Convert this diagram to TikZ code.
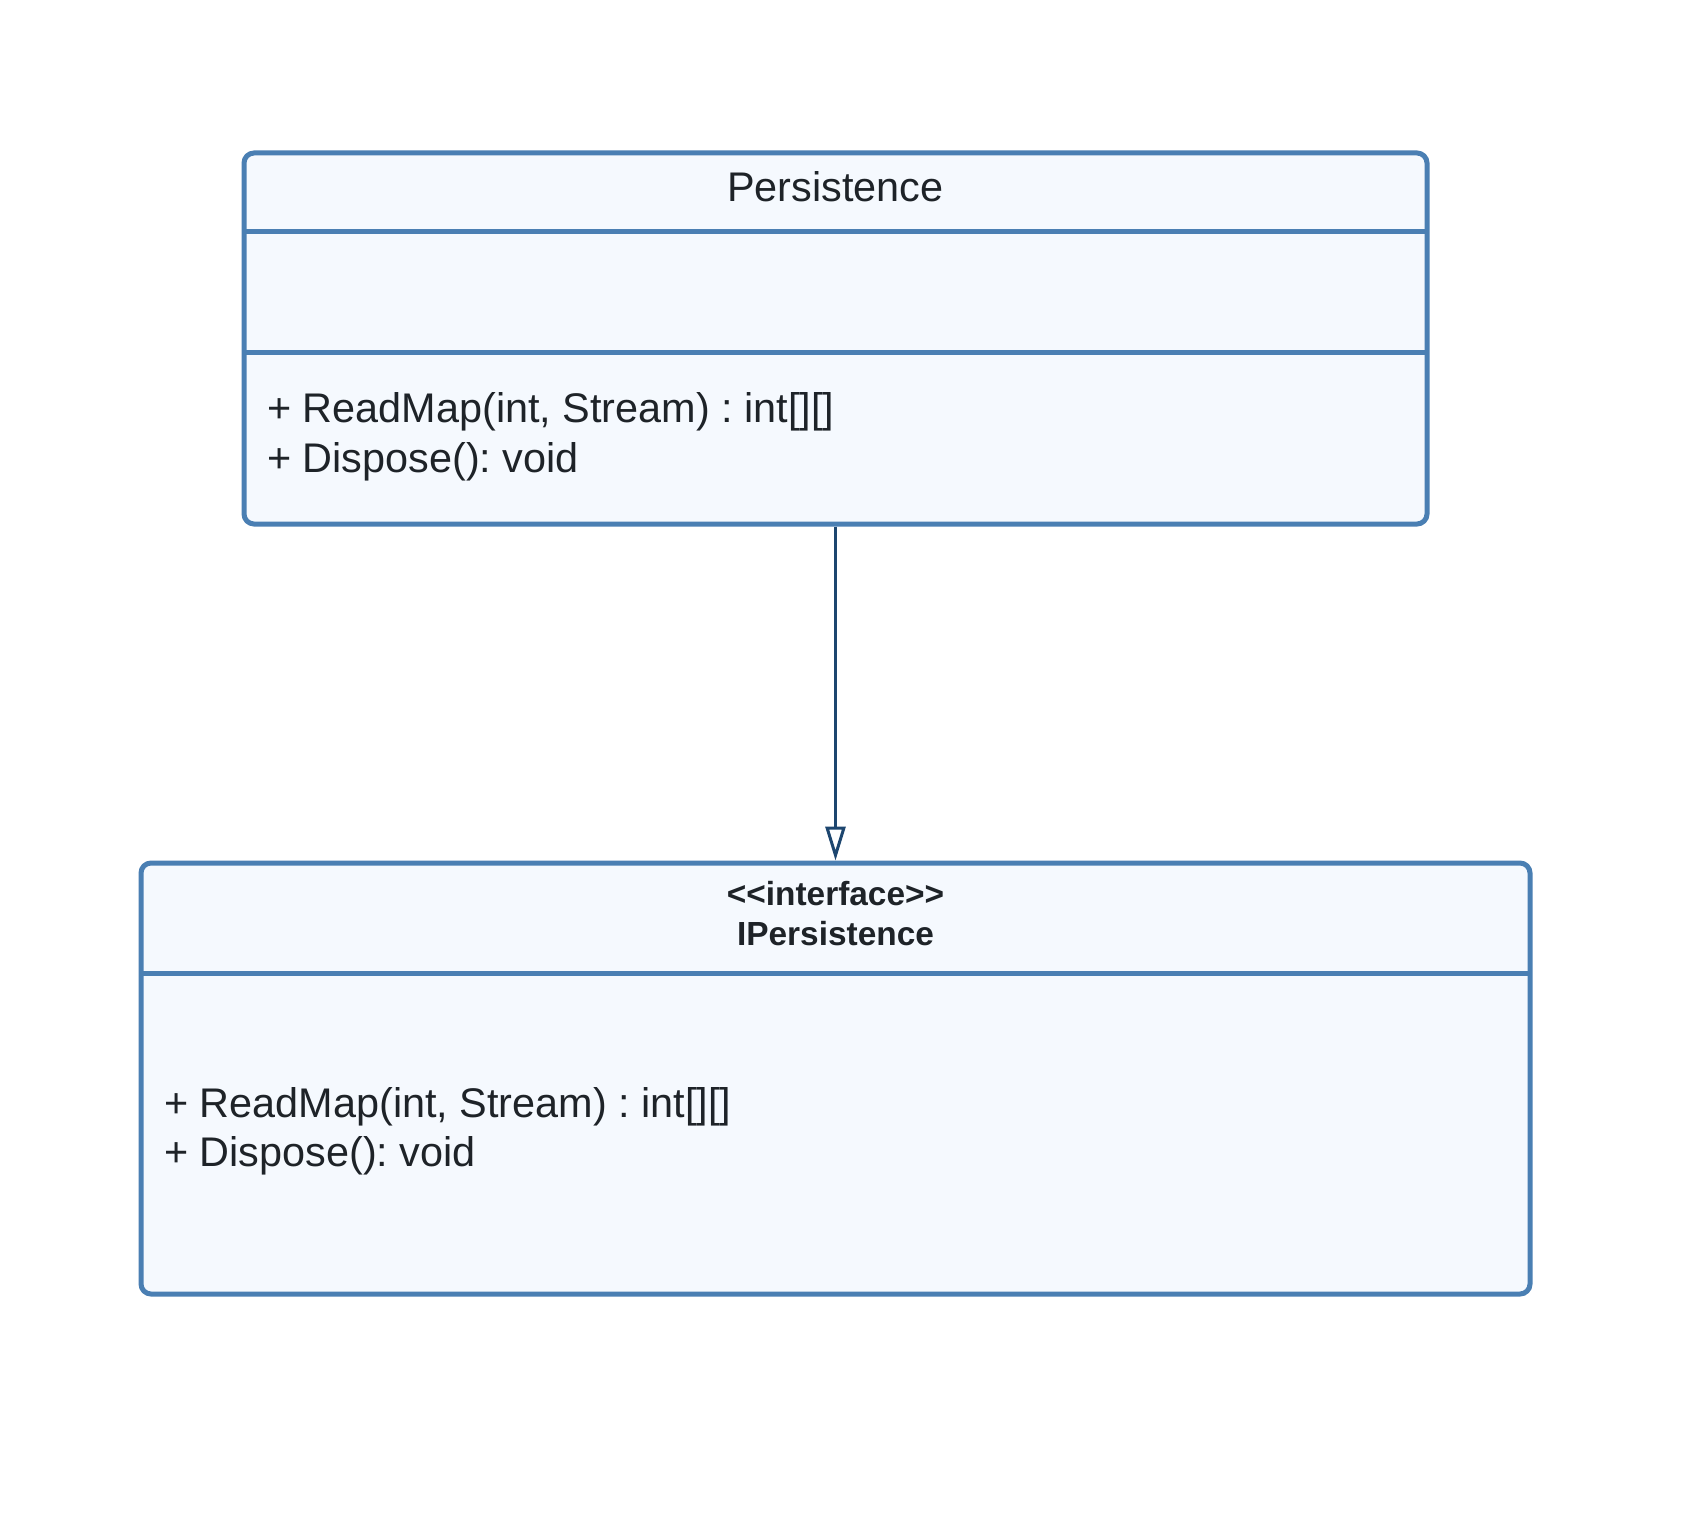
\documentclass[tikz,border=0pt]{standalone}
\usepackage{fontspec}
\setmainfont{Liberation Sans}
\usetikzlibrary{arrows.meta}
\frenchspacing
\definecolor{bordercol}{HTML}{4A7FB3}
\definecolor{fillcol}{HTML}{F5F9FE}
\definecolor{textcol}{HTML}{1E2328}
\definecolor{arrowcol}{HTML}{1D466F}
\tikzset{
  classbox/.style={draw=bordercol, fill=fillcol, line width=5pt, rounded corners=10pt, inner sep=0pt, rectangle},
  divider/.style={draw=bordercol, line width=4.5pt},
  mtext/.style={text=textcol, inner sep=0pt, font=\fontsize{41.4}{50}\selectfont},
  btext/.style={text=textcol, inner sep=0pt, font=\fontsize{33.4}{40}\selectfont\bfseries},
  realize/.style={draw=arrowcol, line width=3pt, -{Triangle[open, length=34pt, width=20pt, line width=3pt]}}
}
\begin{document}
\begin{tikzpicture}[x=1pt,y=-1pt]
\useasboundingbox (0,0) rectangle (1686,1517);
\fill[white] (0,0) rectangle (1686,1517);
% upper class
\node[classbox, minimum width=1183pt, minimum height=371pt] (upper) at (835.5,338.5) {};
\coordinate (u1l) at (244,231.5);
\coordinate (u1r) at (1427,231.5);
\coordinate (u2l) at (244,352.5);
\coordinate (u2r) at (1427,352.5);
\draw[divider] (u1l) -- (u1r);
\draw[divider] (u2l) -- (u2r);
\node[mtext, anchor=base] (utitle) at (835.5,201) {Persistence};
\node[mtext, anchor=base west] (um1) at (267,422) {+ ReadMap(int, Stream) : int[][]};
\node[mtext, anchor=base west] (um2) at (267,472) {+ Dispose(): void};
% lower interface
\node[classbox, minimum width=1389pt, minimum height=431pt] (lower) at (835.5,1078.5) {};
\coordinate (l1l) at (141,973.5);
\coordinate (l1r) at (1530,973.5);
\draw[divider] (l1l) -- (l1r);
\node[btext, anchor=base] (lstereo) at (835.5,905) {<{}<interface>{}>};
\node[btext, anchor=base] (ltitle) at (835.5,945) {IPersistence};
\node[mtext, anchor=base west] (lm1) at (164,1117) {+ ReadMap(int, Stream) : int[][]};
\node[mtext, anchor=base west] (lm2) at (164,1166) {+ Dispose(): void};
% realization
\draw[realize] (upper.south) -- (lower.north);
\end{tikzpicture}
\end{document}
